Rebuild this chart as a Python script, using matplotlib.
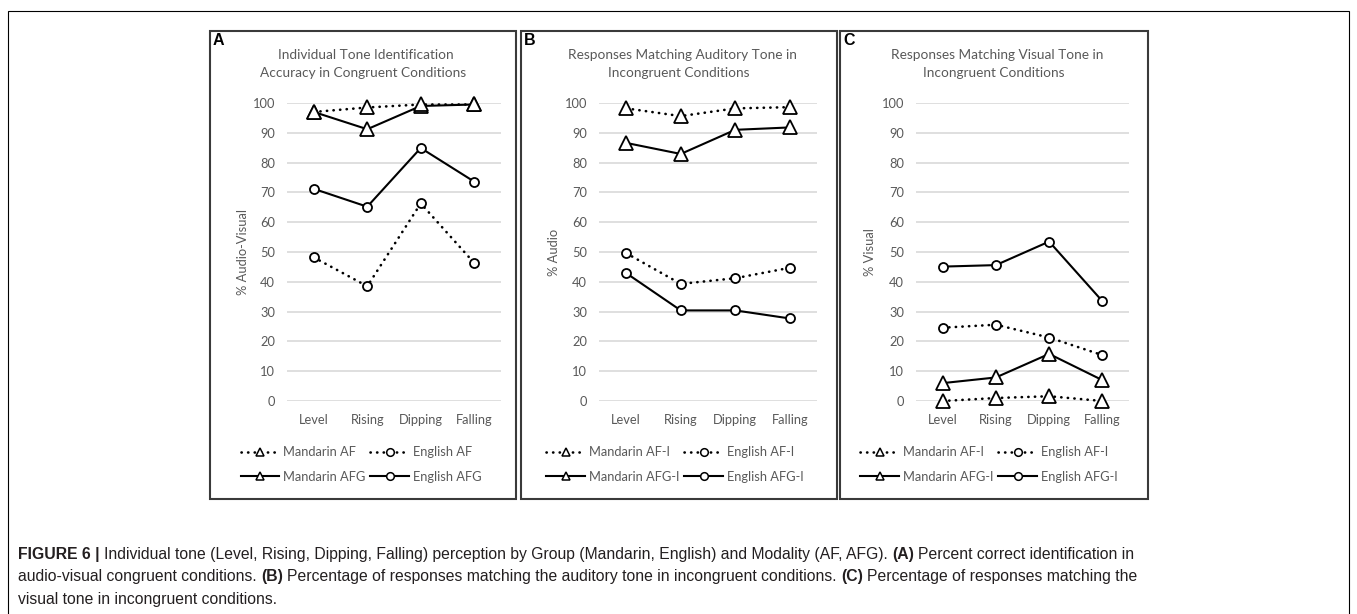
import matplotlib.pyplot as plt
from matplotlib.lines import Line2D
from matplotlib.patches import Rectangle

W, H = 1357, 614

tones = ['Level', 'Rising', 'Dipping', 'Falling']
yticks = [0, 10, 20, 30, 40, 50, 60, 70, 80, 90, 100]

# (A) congruent identification accuracy
a_mand_af = [97.0, 98.5, 99.5, 99.5]
a_eng_af = [48.2, 38.5, 66.3, 46.3]
a_mand_afg = [97.0, 91.2, 99.0, 99.5]
a_eng_afg = [71.2, 65.2, 84.9, 73.6]

# (B) responses matching auditory tone
b_mand_af = [98.2, 95.6, 98.2, 98.6]
b_eng_af = [49.6, 39.3, 41.2, 44.7]
b_mand_afg = [86.6, 82.9, 91.0, 91.8]
b_eng_afg = [42.9, 30.4, 30.4, 27.7]

# (C) responses matching visual tone
c_mand_af = [0.0, 1.0, 1.6, 0.0]
c_eng_af = [24.6, 25.6, 21.3, 15.4]
c_mand_afg = [6.0, 7.9, 15.8, 7.0]
c_eng_afg = [45.1, 45.6, 53.5, 33.5]

plt.rcParams['font.family'] = ['Lato', 'DejaVu Sans']
GRAY = '#595959'

fig = plt.figure(figsize=(W / 100, H / 100), dpi=100)


def rect(x0, y0, x1, y1):
    return [x0 / W, 1 - y1 / H, (x1 - x0) / W, (y1 - y0) / H]


def fx(x):
    return x / W


def fy(y):
    return 1 - y / H


dotted = dict(linestyle=(0, (0.1, 2.4)), linewidth=1.9, dash_capstyle='round')
solid = dict(linestyle='-', linewidth=1.5)
tri = dict(marker='^', markersize=9.5, markerfacecolor='white', markeredgecolor='black', markeredgewidth=1.3)
circ = dict(marker='o', markersize=6.5, markerfacecolor='white', markeredgecolor='black', markeredgewidth=1.3)

panels = [
    dict(letter='A', box=(210, 31, 516, 499), plot=(287, 103, 501, 401),
         title=['Individual Tone Identification', 'Accuracy in Congruent Conditions'],
         ylabel='% Audio-Visual', ylab_x=243, leg_x=361, suffix='',
         data=(a_mand_af, a_eng_af, a_mand_afg, a_eng_afg)),
    dict(letter='B', box=(521, 31, 837, 499), plot=(599, 103, 817, 401),
         title=['Responses Matching Auditory Tone in', 'Incongruent Conditions'],
         ylabel='% Audio', ylab_x=554, leg_x=675, suffix='-I',
         data=(b_mand_af, b_eng_af, b_mand_afg, b_eng_afg)),
    dict(letter='C', box=(840, 31, 1148, 499), plot=(916, 103, 1129, 401),
         title=['Responses Matching Visual Tone in', 'Incongruent Conditions'],
         ylabel='% Visual', ylab_x=870, leg_x=989, suffix='-I',
         data=(c_mand_af, c_eng_af, c_mand_afg, c_eng_afg)),
]

# outer frame around figure and caption (open at the bottom edge)
fig.patches.append(Rectangle((fx(8), fy(640)), fx(1349) - fx(8), fy(11) - fy(640),
                             transform=fig.transFigure, fill=False, edgecolor='black', linewidth=0.8))

for p in panels:
    x0, y0, x1, y1 = p['box']
    fig.patches.append(Rectangle((fx(x0), fy(y1)), fx(x1) - fx(x0), fy(y0) - fy(y1),
                                 transform=fig.transFigure, fill=False,
                                 edgecolor='#3a3a3a', linewidth=1.5))
    fig.text(fx(x0 + 3), fy(33), p['letter'], fontsize=11.5, fontweight='bold',
             family='Liberation Sans', ha='left', va='top')
    cx = (x0 + x1) / 2
    fig.text(fx(cx + 3), fy(55), p['title'][0], fontsize=9.8, color=GRAY, ha='center', va='center')
    fig.text(fx(cx), fy(73), p['title'][1], fontsize=9.8, color=GRAY, ha='center', va='center')

    ax = fig.add_axes(rect(*p['plot']))
    xs = [i + 0.5 for i in range(len(tones))]
    mand_af, eng_af, mand_afg, eng_afg = p['data']
    ax.plot(xs, mand_afg, color='black', clip_on=False, zorder=3, **solid, **tri)
    ax.plot(xs, eng_afg, color='black', clip_on=False, zorder=3, **solid, **circ)
    ax.plot(xs, mand_af, color='black', clip_on=False, zorder=4, **dotted, **tri)
    ax.plot(xs, eng_af, color='black', clip_on=False, zorder=4, **dotted, **circ)

    ax.set_xlim(0, len(tones))
    ax.set_ylim(0, 100)
    ax.set_yticks(yticks)
    ax.set_xticks(xs)
    ax.set_xticklabels(tones)
    ax.tick_params(length=0, labelsize=9.3, labelcolor=GRAY)
    ax.tick_params(axis='y', pad=8.5)
    ax.tick_params(axis='x', pad=9)
    ax.grid(axis='y', color='#d9d9d9', linewidth=1.2)
    ax.set_axisbelow(True)
    for s in ax.spines.values():
        s.set_visible(False)
    ax.set_facecolor('none')

    fig.text(fx(p['ylab_x']), fy((p['plot'][1] + p['plot'][3]) / 2), p['ylabel'],
             rotation=90, fontsize=9.3, color=GRAY, ha='center', va='center')

    sfx = p['suffix']
    sm_tri = dict(tri, markersize=5.5, markeredgewidth=1.1)
    sm_circ = dict(circ, markersize=5.5, markeredgewidth=1.1)
    handles = [
        Line2D([], [], color='black', **dotted, **sm_tri),
        Line2D([], [], color='black', **solid, **sm_tri),
        Line2D([], [], color='black', **dotted, **sm_circ),
        Line2D([], [], color='black', **solid, **sm_circ),
    ]
    labels = ['Mandarin AF' + sfx, 'Mandarin AFG' + sfx, 'English AF' + sfx, 'English AFG' + sfx]
    leg = fig.legend(handles, labels, ncol=2, loc='center',
                     bbox_to_anchor=(fx(p['leg_x']), fy(464.5)), bbox_transform=fig.transFigure,
                     frameon=False, fontsize=9.3, handlelength=3.0, handletextpad=0.3,
                     columnspacing=0.35, labelspacing=0.95, borderpad=0, borderaxespad=0)
    for t in leg.get_texts():
        t.set_color(GRAY)

# caption, bold parts set inline
caption = [
    [('FIGURE 6 |', True), (' Individual tone (Level, Rising, Dipping, Falling) perception by Group '
                            '(Mandarin, English) and Modality (AF, AFG).', False),
     (' (A)', True), (' Percent correct identification in', False)],
    [('audio-visual congruent conditions.', False), (' (B)', True),
     (' Percentage of responses matching the auditory tone in incongruent conditions.', False),
     (' (C)', True), (' Percentage of responses matching the', False)],
    [('visual tone in incongruent conditions.', False)],
]
cap_font = ['Liberation Sans', 'DejaVu Sans']
cap_size = 11.3
renderer = fig.canvas.get_renderer()


def text_width(s, bold):
    t = fig.text(0, 0, s, fontsize=cap_size, family=cap_font, fontweight='bold' if bold else 'normal')
    w = t.get_window_extent(renderer).width
    t.remove()
    return w


space_w = text_width('a a', False) - text_width('aa', False)
for row, baseline in zip(caption, [559, 581.5, 604]):
    x = 18
    for seg, bold in row:
        lead = len(seg) - len(seg.lstrip(' '))
        x += lead * space_w
        seg = seg.strip(' ')
        t = fig.text(fx(x), fy(baseline), seg, fontsize=cap_size, family=cap_font,
                     fontweight='bold' if bold else 'normal', color='#231f20',
                     ha='left', va='baseline')
        x += t.get_window_extent(renderer).width

fig.savefig('out.png', dpi=100)
